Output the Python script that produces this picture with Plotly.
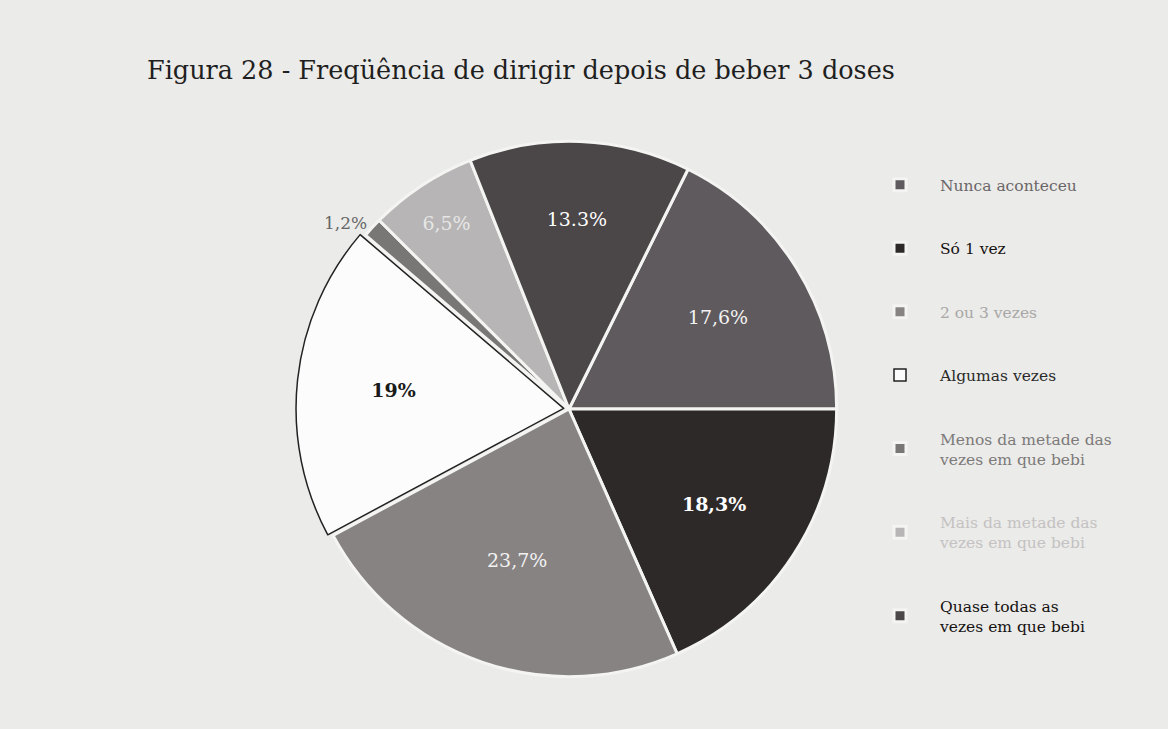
import plotly.graph_objects as go

# Data (clockwise order, matching the legend order)
categories = [
    "Nunca aconteceu",
    "Só 1 vez",
    "2 ou 3 vezes",
    "Algumas vezes",
    "Menos da metade das vezes em que bebi",
    "Mais da metade das vezes em que bebi",
    "Quase todas as vezes em que bebi",
]
values = [17.6, 18.3, 23.7, 19.0, 1.2, 6.5, 13.3]
value_labels = ["17,6%", "18,3%", "23,7%", "19%", "1,2%", "6,5%", "13.3%"]

# Legend display text (line breaks as in the reference)
legend_lines = [
    ["Nunca aconteceu"],
    ["Só 1 vez"],
    ["2 ou 3 vezes"],
    ["Algumas vezes"],
    ["Menos da metade das", "vezes em que bebi"],
    ["Mais da metade das", "vezes em que bebi"],
    ["Quase todas as", "vezes em que bebi"],
]
legend_colors = ["#6a6668", "#161212", "#a9a7a7", "#2a2a2a", "#7d7a7a", "#c4c2c2", "#161212"]

slice_colors = ["#5e5a5d", "#2e2929", "#878383", "#fbfcfb", "#797676", "#b7b5b5", "#4b4647"]
line_colors = ["#f4f4f2", "#f4f4f2", "#f4f4f2", "#222222", "#f4f4f2", "#f4f4f2", "#f4f4f2"]
line_widths = [3, 3, 3, 1.5, 3, 3, 3]
text_colors = ["#f2f2f2", "#ffffff", "#f2f2f2", "#1a1a1a", "#666666", "#e6e6e6", "#ffffff"]
text_pos = ["inside", "inside", "inside", "inside", "outside", "inside", "inside"]
bold = [False, True, False, True, False, False, False]
pulls = [0, 0, 0, 0.02, 0, 0, 0]

display_text = [f"<b>{t}</b>" if b else t for t, b in zip(value_labels, bold)]

legend_names = []
for lines, col in zip(legend_lines, legend_colors):
    body = "<br>".join(f'<span style="color:{col}">{t}</span>' for t in lines)
    legend_names.append(" <br>" + body + "<br> ")

fig = go.Figure()
fig.add_trace(go.Pie(
    labels=legend_names,
    values=values,
    text=display_text,
    texttemplate="%{text}",
    textposition=text_pos,
    insidetextorientation="horizontal",
    textfont=dict(family="DejaVu Serif", size=19, color=text_colors),
    insidetextfont=dict(family="DejaVu Serif", size=19, color=text_colors),
    outsidetextfont=dict(family="DejaVu Serif", size=17, color="#666666"),
    sort=False,
    direction="clockwise",
    rotation=26.4,
    pull=pulls,
    marker=dict(colors=slice_colors, line=dict(color=line_colors, width=line_widths)),
    domain=dict(x=[(569 - 273) / 1168, (569 + 273) / 1168],
                y=[(729 - 409 - 273) / 729, (729 - 409 + 273) / 729]),
    hoverinfo="skip",
    showlegend=True,
))

fig.update_layout(
    width=1168,
    height=729,
    margin=dict(l=0, r=0, t=0, b=0),
    paper_bgcolor="#ebebe9",
    plot_bgcolor="#ebebe9",
    title=dict(
        text="Figura 28 - Freqüência de dirigir depois de beber 3 doses",
        font=dict(family="DejaVu Serif", size=25.5, color="#1f1f1f"),
        x=147 / 1168, xanchor="left",
        y=1 - 70 / 729, yanchor="middle",
    ),
    legend=dict(
        x=860 / 1168, xanchor="left",
        y=1 - 148 / 729, yanchor="top",
        font=dict(family="DejaVu Serif", size=15.5, color="#222222"),
        bgcolor="rgba(0,0,0,0)",
        itemwidth=70,
        itemclick=False,
    ),
)

fig.write_html(
    "out.html",
    config={"displayModeBar": False},
    post_script="document.body.style.margin='0';document.body.style.overflow='hidden';",
)
